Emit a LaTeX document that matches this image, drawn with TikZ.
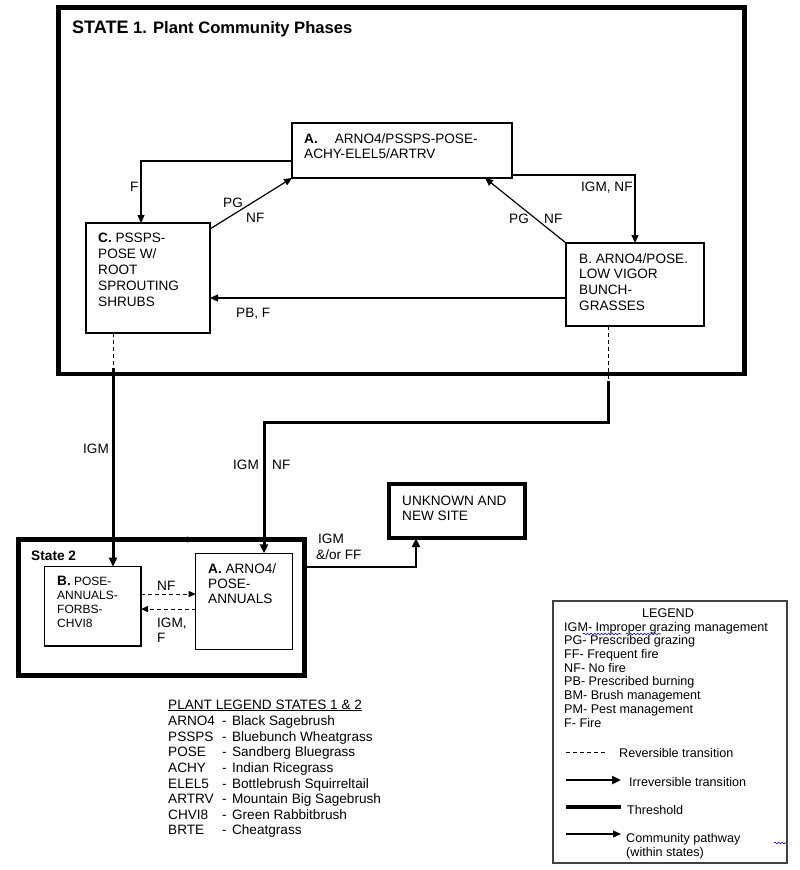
\documentclass[tikz,border=0pt]{standalone}
\usepackage{fontspec}
\setmainfont{Liberation Sans}
\usetikzlibrary{arrows.meta,decorations.pathmorphing}

\begin{document}
\begin{tikzpicture}[x=1pt,y=-1pt,
  phase/.style={draw,line width=1.2pt,anchor=north west,inner sep=0,outer sep=0},
  statebox/.style={draw,line width=4.5pt,anchor=north west,inner sep=0,outer sep=0},
  txt/.style={anchor=base west,inner sep=0,align=left,font=\fontsize{13.6}{15.6}\selectfont},
  lgd/.style={anchor=base west,inner sep=0,align=left,font=\fontsize{12.6}{13.7}\selectfont},
  pathway/.style={line width=1.2pt,-{Triangle[length=8pt,width=7pt]}},
  thresh/.style={line width=3pt,-{Triangle[length=9pt,width=8pt]}},
  revers/.style={line width=1pt,dash pattern=on 4pt off 3pt},
  revarrow/.style={revers,-{Triangle[length=7pt,width=6pt]}},
  wavy/.style={draw=blue!70!black,line width=0.6pt,decorate,decoration={snake,amplitude=0.9pt,segment length=3.5pt}}]
\useasboundingbox (0,0) rectangle (800,870);
\node[statebox,minimum width=686,minimum height=366.5] (S1) at (58.5,7.5) {};
\node[anchor=base west,inner sep=0,font=\bfseries\fontsize{16.6}{20}\selectfont] (S1t) at (72,33) {{\fontsize{18}{20}\selectfont STATE} 1. Plant Community Phases};
\node[phase,minimum width=220,minimum height=55] (A) at (292,123) {};
\node[phase,minimum width=124,minimum height=110] (C) at (86,223) {};
\node[phase,minimum width=138,minimum height=83] (B) at (566,243) {};
\node[txt,font=\fontsize{13.6}{15}\selectfont] (At) at (304,158) {\textbf{A.}\hspace{17pt}ARNO4/PSSPS-POSE-\\ACHY-ELEL5/ARTRV};
\node[txt,font=\fontsize{13.6}{16}\selectfont] (Ct) at (98,306) {\textbf{C.} PSSPS-\\POSE W/\\ROOT\\SPROUTING\\SHRUBS};
\node[txt] (Bt) at (579,310) {B. ARNO4/POSE.\\LOW VIGOR\\BUNCH-\\GRASSES};
\draw[pathway] ([yshift=-10.5pt]A.west) -| ([xshift=-7pt]C.north);
\draw[pathway] ([yshift=-6pt]C.north east) -- (A.south west);
\draw[pathway] (B.north west) -- ([xshift=-27pt]A.south east);
\draw[pathway] ([yshift=3pt]A.south east) -| (B.north);
\draw[pathway] ([yshift=-13.5pt]B.west) -- ([yshift=-13.5pt]B.west -| C.east);
\node[txt] (lF) at (130,191) {F};
\node[txt] (lPGa) at (223,207) {PG};
\node[txt] (lNFa) at (246,222) {NF};
\node[txt] (lPGb) at (509,223) {PG};
\node[txt] (lNFb) at (544,223) {NF};
\node[txt] (lIN) at (581,191) {IGM, NF};
\node[txt] (lPB) at (236,317) {PB, F};
\node[statebox,minimum width=286.2,minimum height=136] (S2) at (18.3,539.5) {};
\node[anchor=base west,inner sep=0,font=\bfseries\fontsize{13.7}{16}\selectfont] (S2t) at (31,560) {State 2};
\node[phase,minimum width=96.7,minimum height=79.3] (B2) at (44.3,566.7) {};
\node[phase,minimum width=96.6,minimum height=96] (A2) at (195.7,553.3) {};
\node[txt,font=\fontsize{12}{13.7}\selectfont] (B2t) at (57,627) {{\fontsize{13.6}{13.7}\selectfont\textbf{B.}} POSE-\\ANNUALS-\\FORBS-\\CHVI8};
\node[txt,font=\fontsize{13.6}{15}\selectfont] (A2t) at (208,603) {\textbf{A.} ARNO4/\\POSE-\\ANNUALS};
\draw[revarrow] ([yshift=12.3pt]B2.east) -- ([yshift=12.3pt]B2.east -| A2.west);
\draw[revarrow] ([yshift=-2.7pt]B2.east -| A2.west) -- ([yshift=-2.7pt]B2.east);
\node[txt] (lNFc) at (157,590) {NF};
\node[txt,font=\fontsize{13.6}{15}\selectfont] (lIF) at (157,642) {IGM,\\F};
\draw[-{Triangle[length=6pt,width=6pt]}] ([xshift=24pt]S2.north) -- ([xshift=32pt]S2.north);
\node[statebox,line width=4pt,minimum width=136.3,minimum height=54] (U) at (388.7,484) {};
\node[txt,font=\fontsize{13.6}{15}\selectfont] (Ut) at (402,520) {UNKNOWN AND\\NEW SITE};
\coordinate (c1) at (113,368);
\draw[revers] (C.south -| c1) -- (c1);
\draw[thresh] (c1) -- (B2.north -| c1);
\coordinate (b1) at (608,381);
\coordinate (b2) at (264,422);
\draw[revers] (B.south -| b1) -- (b1);
\draw[thresh] (b1) |- (b2) -- (A2.north -| b2);
\coordinate (u1) at (416,567);
\draw[thresh,line width=2.5pt] (S2.east |- u1) -| (U.south -| u1);
\node[txt] (lIGMa) at (83,453) {IGM};
\node[txt] (lIGMb) at (233,469) {IGM};
\node[txt] (lNFd) at (272,469) {NF};
\node[txt,font=\fontsize{13.6}{16}\selectfont] (lIF2) at (316,559) {\hspace{2pt}IGM\\\&/or FF};
\node[txt] (PL) at (168,709) {\begin{tabular}[t]{@{}l@{\hspace{7pt}-\hspace{5.5pt}}l@{}}
\multicolumn{2}{@{}l@{}}{\underline{PLANT LEGEND STATES 1 \& 2}}\\[1pt]
ARNO4&Black Sagebrush\\
PSSPS&Bluebunch Wheatgrass\\
POSE&Sandberg Bluegrass\\
ACHY&Indian Ricegrass\\
ELEL5&Bottlebrush Squirreltail\\
ARTRV&Mountain Big Sagebrush\\
CHVI8&Green Rabbitbrush\\
BRTE&Cheatgrass
\end{tabular}};
\node[draw=black!75,line width=1.5pt,anchor=north west,inner sep=0,outer sep=0,minimum width=234,minimum height=262] (L) at (553,601) {};
\node[lgd,anchor=base] (Lh) at (668,617) {LEGEND};
\node[lgd] (Ll) at (564,727) {IGM- Improper grazing management\\PG- Prescribed grazing\\FF- Frequent fire\\NF- No fire\\PB- Prescribed burning\\BM- Brush management\\PM- Pest management\\F- Fire};
\draw[wavy] (583,634) -- (621,634);
\draw[wavy] (626,634) -- (661,634);
\draw[wavy] (774,843) -- (786,843);
\node[lgd] (Lrev) at (619,757) {Reversible transition};
\node[lgd] (Lirr) at (629,786) {Irreversible transition};
\node[lgd] (Lthr) at (627,814) {Threshold};
\node[lgd] (Lcom) at (626,856) {Community pathway\\(within states)};
\coordinate (r1) at (566,752);
\coordinate (r2) at (566,780);
\coordinate (r3) at (566,807);
\coordinate (r4) at (566,834);
\draw[revers] (r1) -- ++(41,0);
\draw[thresh,line width=2.5pt] (r2) -- ++(55,0);
\draw[line width=4pt] (r3) -- ++(55,0);
\draw[pathway] (r4) -- ++(55,0);
\end{tikzpicture}
\end{document}
